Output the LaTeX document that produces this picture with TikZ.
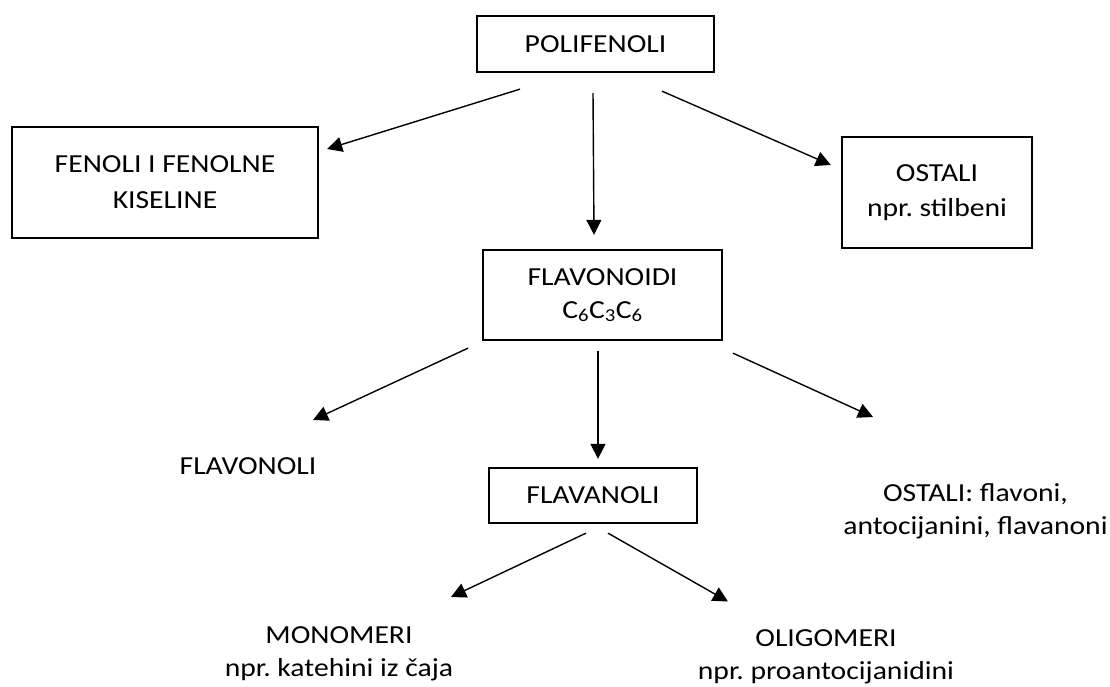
\documentclass[tikz,border=0pt]{standalone}
\usepackage{fontspec}
\setmainfont{Carlito}[FakeStretch=1.14]
\usetikzlibrary{arrows.meta}
\frenchspacing

\tikzset{
  box/.style={draw, line width=2.3pt, align=center, inner sep=0pt},
  txt/.style={align=center, inner sep=0pt},
  arr/.style={-{Triangle[length=15pt,width=15pt]}, line width=1.4pt}
}

\begin{document}
\begin{tikzpicture}[x=1pt,y=-1pt,font=\fontsize{26}{33}\selectfont]
  \useasboundingbox (0,0) rectangle (1110,687);

  % boxes
  \node[box, minimum width=237pt, minimum height=56pt] (pol) at (595.5,44) {POLIFENOLI};
  \node[box, minimum width=306pt, minimum height=111pt] (fen) at (165,182.5) {FENOLI I FENOLNE\\[3pt]KISELINE};
  \node[box, minimum width=190pt, minimum height=111pt] (ost) at (937,192.5) {OSTALI\\[2pt]npr. stilbeni};
  \node[box, minimum width=239pt, minimum height=90pt] (flv) at (602.5,295) {FLAVONOIDI\\C\textsubscript{6}C\textsubscript{3}C\textsubscript{6}};
  \node[box, minimum width=208pt, minimum height=55pt] (fla) at (593,495.5) {FLAVANOLI};

  % plain texts
  \node[txt] (flvl) at (248,466.5) {FLAVONOLI};
  \node[txt] (ostf) at (975.5,511) {OSTALI: flavoni,\\antocijanini, flavanoni};
  \node[txt] (mon) at (339,654) {MONOMERI\\npr. katehini iz čaja};
  \node[txt] (oli) at (826,657) {OLIGOMERI\\npr. proantocijanidini};

  % arrows
  \draw[arr] ([shift={(-75.5,16)}]pol.south) -- ([shift={(8,-33.5)}]fen.east);
  \draw[arr] ([shift={(-2.5,20)}]pol.south) -- ([shift={(-8.5,-14)}]flv.north);
  \draw[arr] ([shift={(66.5,18)}]pol.south) -- ([shift={(-10,-27.5)}]ost.west);
  \draw[arr] ([shift={(-134.5,7)}]flv.south) -- ([shift={(65,-46.5)}]flvl.center);
  \draw[arr] ([shift={(-4.5,10)}]flv.south) -- ([shift={(5,-8)}]fla.north);
  \draw[arr] ([shift={(130.5,12)}]flv.south) -- ([shift={(-102.5,-94)}]ostf.center);
  \draw[arr] ([shift={(-7,9)}]fla.south) -- ([shift={(112,-57)}]mon.center);
  \draw[arr] ([shift={(15,9)}]fla.south) -- ([shift={(-98,-55.5)}]oli.center);
\end{tikzpicture}
\end{document}
